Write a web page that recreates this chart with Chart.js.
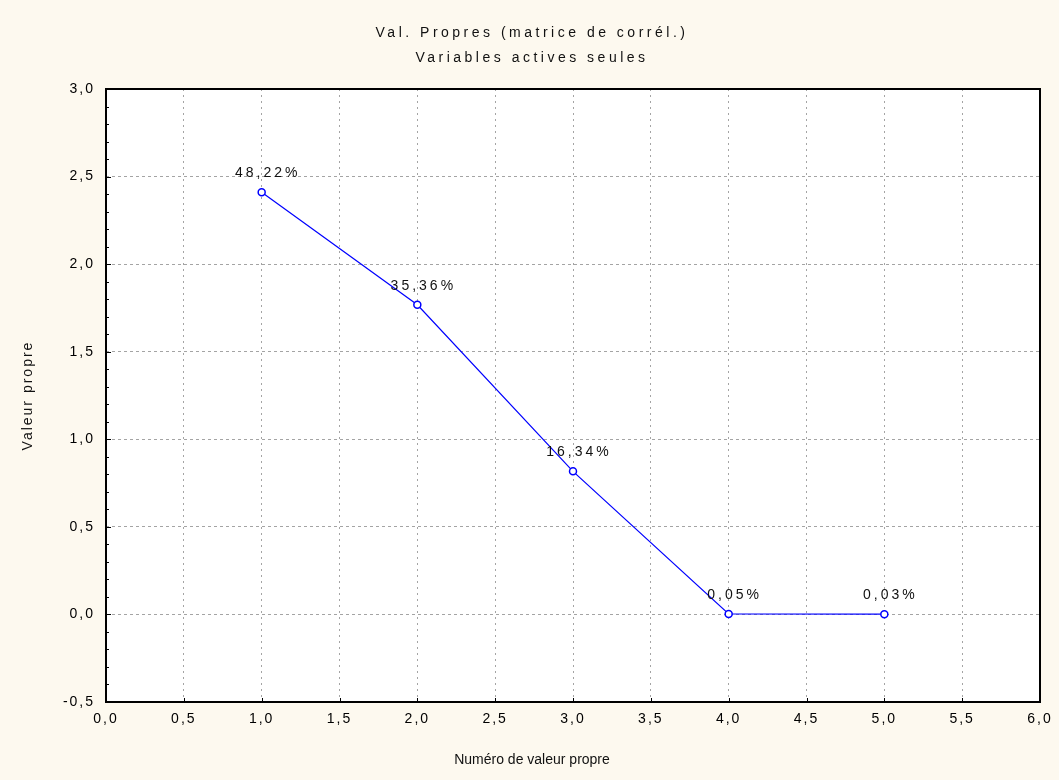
<!doctype html>
<html lang="fr">

<head>
    <meta charset="utf-8">
    <title>Val. Propres</title>
    <script src="https://cdn.jsdelivr.net/npm/chart.js"></script>
    <style>
        html, body {
            margin: 0;
            padding: 0;
            background: #fdf9ef;
        }

        #wrap {
            width: 1059px;
            height: 780px;
        }
    </style>
</head>

<body>
    <div id="wrap">
        <canvas id="chart" width="1059" height="780"></canvas>
    </div>
    <script>
        // numéro de valeur propre, valeur propre, % de variance expliquée
        const numeros = [1, 2, 3, 4, 5];
        const valeurs = [2.411, 1.768, 0.817, 0.0025, 0.0015];
        const pourcents = [48.22, 35.36, 16.34, 0.05, 0.03];

        const titre = ['Val. Propres (matrice de corrél.)', 'Variables actives seules'];
        const titreX = 'Numéro de valeur propre';
        const titreY = 'Valeur propre';

        const police = "'Liberation Sans', Arial, sans-serif";
        const virgule = v => v.toFixed(1).replace('.', ',');

        // fond blanc de la zone de tracé, espacement des lettres, cadre et graduations
        const cadre = {
            id: 'cadre',
            beforeDraw(chart) {
                const { ctx, chartArea: a } = chart;
                ctx.letterSpacing = '2px';
                ctx.save();
                ctx.fillStyle = '#ffffff';
                ctx.fillRect(a.left, a.top, a.right - a.left, a.bottom - a.top);
                ctx.restore();
            },
            afterDraw(chart) {
                const { ctx, chartArea: a, scales } = chart;
                ctx.save();
                ctx.strokeStyle = '#000';
                ctx.lineWidth = 1;
                // graduations Y : majeures tous les 0,5, mineures tous les 0,1
                for (let i = -5; i <= 30; i++) {
                    const y = Math.round(scales.y.getPixelForValue(i / 10)) + 0.5;
                    const len = i % 5 === 0 ? 5 : 3;
                    ctx.beginPath();
                    ctx.moveTo(a.left, y);
                    ctx.lineTo(a.left + len, y);
                    ctx.stroke();
                }
                // graduations X tous les 0,5
                for (let i = 0; i <= 12; i++) {
                    const x = Math.round(scales.x.getPixelForValue(i / 2)) + 0.5;
                    ctx.beginPath();
                    ctx.moveTo(x, a.bottom);
                    ctx.lineTo(x, a.bottom - 4);
                    ctx.stroke();
                }
                ctx.lineWidth = 2;
                ctx.strokeRect(a.left, a.top, a.right - a.left, a.bottom - a.top);

                // titres
                ctx.fillStyle = '#111';
                ctx.textAlign = 'center';
                ctx.textBaseline = 'middle';
                ctx.font = '14px ' + police;
                ctx.letterSpacing = '3.5px';
                ctx.fillText(titre[0], 532, 33);
                ctx.fillText(titre[1], 532, 58);
                ctx.letterSpacing = '0px';
                ctx.fillText(titreX, 532, 760);
                ctx.restore();
            }
        };

        // étiquettes de pourcentage au-dessus des points
        const etiquettes = {
            id: 'etiquettes',
            afterDatasetsDraw(chart) {
                const { ctx } = chart;
                const meta = chart.getDatasetMeta(0);
                ctx.save();
                ctx.font = '14px ' + police;
                ctx.letterSpacing = '3px';
                ctx.fillStyle = '#111';
                ctx.textAlign = 'center';
                ctx.textBaseline = 'middle';
                meta.data.forEach((pt, i) => {
                    const txt = pourcents[i].toFixed(2).replace('.', ',') + '%';
                    ctx.fillText(txt, pt.x + 6, pt.y - 19);
                });
                ctx.restore();
            }
        };

        new Chart(document.getElementById('chart'), {
            type: 'line',
            data: {
                datasets: [{
                    data: numeros.map((n, i) => ({ x: n, y: valeurs[i] })),
                    borderColor: '#0000ff',
                    borderWidth: 1.2,
                    pointStyle: 'circle',
                    pointRadius: 3.5,
                    pointBorderWidth: 1.5,
                    pointBackgroundColor: '#ffffff',
                    pointBorderColor: '#0000ff',
                    tension: 0
                }]
            },
            options: {
                responsive: false,
                animation: false,
                layout: {
                    padding: { top: 89, right: 19, bottom: 0, left: 0 }
                },
                plugins: {
                    legend: { display: false },
                    tooltip: { enabled: false }
                },
                scales: {
                    x: {
                        type: 'linear',
                        min: 0,
                        max: 6,
                        grid: { color: '#a4a4a4', lineWidth: 1, drawTicks: false },
                        border: { display: false, dash: [2, 4] },
                        ticks: {
                            stepSize: 0.5,
                            padding: 9,
                            color: '#000',
                            font: { family: police, size: 14 },
                            maxRotation: 0,
                            callback: v => virgule(v)
                        },
                        afterFit: s => { s.height = 78; }
                    },
                    y: {
                        min: -0.5,
                        max: 3,
                        grid: { color: '#a4a4a4', lineWidth: 1, drawTicks: false },
                        border: { display: false, dash: [3, 3] },
                        ticks: {
                            stepSize: 0.5,
                            padding: 11,
                            color: '#000',
                            font: { family: police, size: 14 },
                            callback: v => virgule(v)
                        },
                        title: {
                            display: true,
                            text: titreY,
                            color: '#111',
                            font: { family: police, size: 14 },
                            padding: { top: 20, bottom: 0 }
                        },
                        afterFit: s => { s.width = 106; }
                    }
                }
            },
            plugins: [cadre, etiquettes]
        });
    </script>
</body>

</html>
